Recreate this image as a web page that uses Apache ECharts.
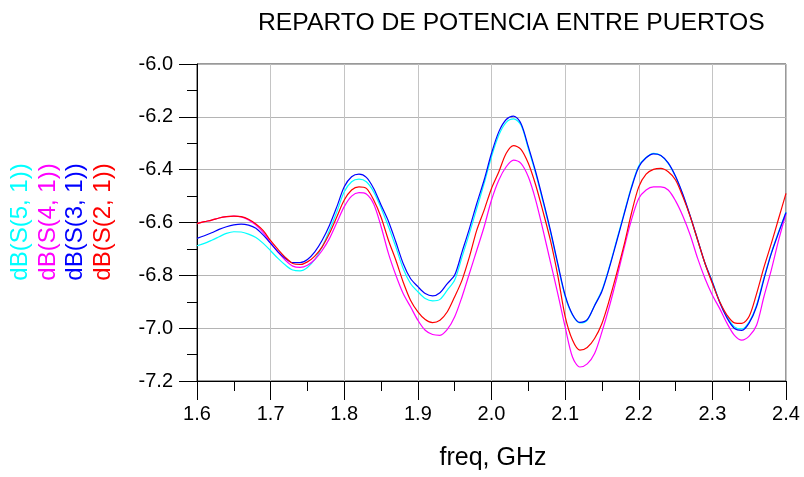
<!DOCTYPE html>
<html>
<head>
<meta charset="utf-8">
<script src="https://cdn.jsdelivr.net/npm/echarts@6/dist/echarts.min.js"></script>
<style>html,body{margin:0;padding:0;background:#fff}#c{width:804px;height:477px}</style>
</head>
<body>
<div id="c"></div>
<script>
const titleText = "REPARTO DE POTENCIA ENTRE PUERTOS";
const xName = "freq, GHz";
const freq = [1.60,1.61,1.62,1.63,1.64,1.65,1.66,1.67,1.68,1.69,1.70,1.71,1.72,1.73,1.74,1.75,1.76,1.77,1.78,1.79,1.80,1.81,1.82,1.83,1.84,1.85,1.86,1.87,1.88,1.89,1.90,1.91,1.92,1.93,1.94,1.95,1.96,1.97,1.98,1.99,2.00,2.01,2.02,2.03,2.04,2.05,2.06,2.07,2.08,2.09,2.10,2.11,2.12,2.13,2.14,2.15,2.16,2.17,2.18,2.19,2.20,2.21,2.22,2.23,2.24,2.25,2.26,2.27,2.28,2.29,2.30,2.31,2.32,2.33,2.34,2.35,2.36,2.37,2.38,2.39,2.40];
const seriesNames = ["dB(S(5, 1))", "dB(S(4, 1))", "dB(S(3, 1))", "dB(S(2, 1))"];
const seriesColors = ["#00ffff", "#ff00ff", "#0000ff", "#ff0000"];
const s51 = [-6.688,-6.679,-6.667,-6.654,-6.641,-6.635,-6.636,-6.644,-6.657,-6.679,-6.707,-6.736,-6.761,-6.780,-6.783,-6.770,-6.740,-6.692,-6.629,-6.559,-6.484,-6.446,-6.436,-6.446,-6.484,-6.545,-6.615,-6.692,-6.774,-6.831,-6.862,-6.888,-6.897,-6.891,-6.856,-6.818,-6.730,-6.641,-6.547,-6.452,-6.351,-6.269,-6.221,-6.208,-6.231,-6.320,-6.414,-6.522,-6.635,-6.761,-6.880,-6.950,-6.980,-6.970,-6.913,-6.856,-6.768,-6.667,-6.566,-6.465,-6.386,-6.354,-6.338,-6.346,-6.376,-6.427,-6.496,-6.578,-6.667,-6.755,-6.824,-6.900,-6.957,-6.995,-7.003,-6.976,-6.913,-6.810,-6.715,-6.635,-6.560];
const s41 = [-6.604,-6.597,-6.591,-6.583,-6.578,-6.576,-6.579,-6.590,-6.610,-6.638,-6.677,-6.712,-6.743,-6.765,-6.770,-6.762,-6.740,-6.706,-6.660,-6.600,-6.540,-6.500,-6.487,-6.492,-6.530,-6.615,-6.717,-6.799,-6.869,-6.919,-6.970,-7.008,-7.024,-7.027,-7.005,-6.957,-6.881,-6.793,-6.705,-6.616,-6.515,-6.439,-6.389,-6.364,-6.376,-6.427,-6.515,-6.629,-6.749,-6.869,-6.995,-7.109,-7.147,-7.135,-7.096,-7.014,-6.919,-6.812,-6.698,-6.591,-6.509,-6.477,-6.465,-6.465,-6.477,-6.518,-6.576,-6.648,-6.736,-6.812,-6.875,-6.926,-6.982,-7.027,-7.045,-7.030,-6.989,-6.881,-6.780,-6.667,-6.566];
const s31 = [-6.660,-6.650,-6.639,-6.626,-6.616,-6.609,-6.606,-6.610,-6.622,-6.648,-6.679,-6.711,-6.736,-6.752,-6.752,-6.740,-6.711,-6.667,-6.610,-6.540,-6.465,-6.427,-6.417,-6.429,-6.471,-6.534,-6.595,-6.673,-6.755,-6.812,-6.843,-6.869,-6.878,-6.866,-6.831,-6.799,-6.711,-6.623,-6.528,-6.439,-6.338,-6.256,-6.210,-6.197,-6.225,-6.313,-6.408,-6.515,-6.629,-6.755,-6.875,-6.948,-6.978,-6.968,-6.915,-6.860,-6.772,-6.672,-6.570,-6.470,-6.390,-6.355,-6.340,-6.346,-6.374,-6.425,-6.494,-6.576,-6.665,-6.754,-6.826,-6.903,-6.962,-7.001,-7.008,-6.980,-6.918,-6.815,-6.718,-6.638,-6.562];
const s21 = [-6.604,-6.597,-6.591,-6.583,-6.578,-6.576,-6.578,-6.588,-6.606,-6.631,-6.669,-6.702,-6.732,-6.755,-6.759,-6.749,-6.727,-6.692,-6.641,-6.578,-6.515,-6.477,-6.465,-6.471,-6.515,-6.580,-6.667,-6.742,-6.825,-6.894,-6.938,-6.967,-6.979,-6.970,-6.938,-6.881,-6.818,-6.730,-6.629,-6.553,-6.471,-6.408,-6.338,-6.309,-6.323,-6.376,-6.458,-6.559,-6.667,-6.800,-6.955,-7.045,-7.083,-7.073,-7.039,-6.982,-6.894,-6.793,-6.686,-6.566,-6.465,-6.417,-6.399,-6.395,-6.408,-6.439,-6.503,-6.578,-6.667,-6.755,-6.831,-6.900,-6.951,-6.980,-6.982,-6.955,-6.870,-6.770,-6.680,-6.585,-6.490];
const yTicks = [-7.2,-7.0,-6.8,-6.6,-6.4,-6.2,-6.0];
const xTicks = [1.6,1.7,1.8,1.9,2.0,2.1,2.2,2.3,2.4];

const allSeries = [s51, s41, s31, s21];
const pairs = arr => freq.map((f, i) => [f, arr[i]]);
const FONT = '"Liberation Sans", Arial, sans-serif';

const drawOrder = [3, 1, 2, 0];
const series = drawOrder.map(k => ({
  name: seriesNames[k],
  type: 'line',
  data: pairs(allSeries[k]),
  showSymbol: false,
  smooth: 0.3,
  lineStyle: { color: seriesColors[k], width: 1.2 },
  itemStyle: { color: seriesColors[k] },
  z: 3 + k,
  animation: false
}));

const legendX = [20, 48, 75, 103];
const graphics = seriesNames.map((n, k) => ({
  type: 'text',
  x: legendX[k],
  y: 222,
  rotation: Math.PI / 2,
  style: {
    text: n,
    fill: seriesColors[k],
    font: '24px ' + FONT,
    textAlign: 'center',
    textVerticalAlign: 'middle'
  }
}));
graphics.push({
  type: 'text', x: 258, y: 11,
  style: { text: titleText, fill: '#000', font: '24.7px ' + FONT, textAlign: 'left', textVerticalAlign: 'top' }
});
graphics.push({
  type: 'text', x: 493, y: 446,
  style: { text: xName, fill: '#000', font: '25px ' + FONT, textAlign: 'center', textVerticalAlign: 'top' }
});

const chart = echarts.init(document.getElementById('c'), null, { renderer: 'canvas' });
chart.setOption({
  animation: false,
  backgroundColor: '#fff',
  grid: { left: 197, right: 18, top: 64, bottom: 96, show: true, borderColor: '#333', borderWidth: 1, backgroundColor: 'transparent' },
  xAxis: {
    type: 'value', min: xTicks[0], max: xTicks[xTicks.length - 1], interval: 0.1,
    axisLine: { show: true, onZero: false, lineStyle: { color: '#000', width: 1 } },
    axisTick: { show: true, length: 19, lineStyle: { color: '#000' } },
    minorTick: { show: true, splitNumber: 2, length: 10, lineStyle: { color: '#000' } },
    axisLabel: { margin: 23, color: '#000', fontSize: 20, fontFamily: FONT, formatter: v => v.toFixed(1) },
    splitLine: { show: true, lineStyle: { color: '#c4c4c4', width: 1 } }
  },
  yAxis: {
    type: 'value', min: yTicks[0], max: yTicks[yTicks.length - 1], interval: 0.2,
    axisLine: { show: true, onZero: false, lineStyle: { color: '#000', width: 1 } },
    axisTick: { show: true, length: 18, lineStyle: { color: '#000' } },
    minorTick: { show: true, splitNumber: 2, length: 10, lineStyle: { color: '#000' } },
    axisLabel: { margin: 24, color: '#000', fontSize: 20, fontFamily: FONT, formatter: v => v.toFixed(1) },
    splitLine: { show: true, lineStyle: { color: '#b4b4b4', width: 1 } }
  },
  graphic: graphics,
  series: series
});
</script>
</body>
</html>
